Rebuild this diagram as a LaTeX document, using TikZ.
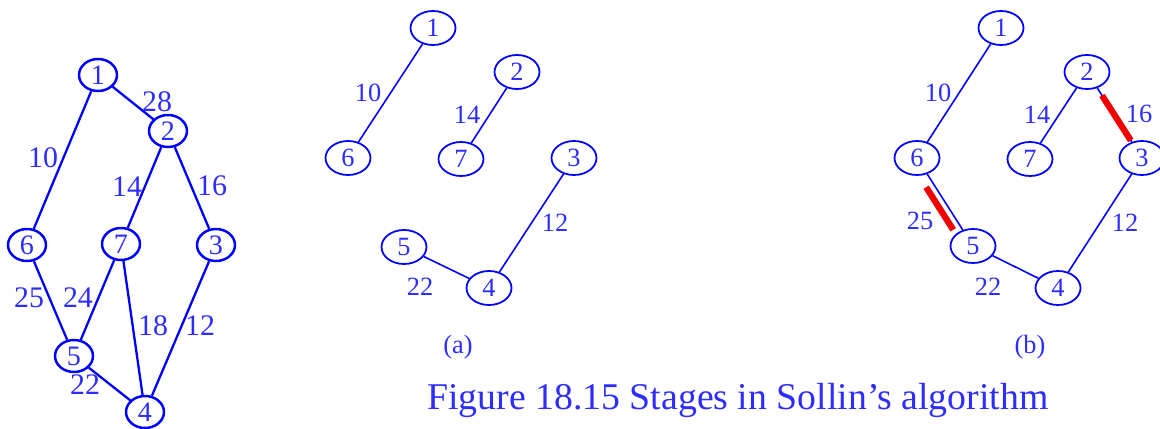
\documentclass[tikz,border=0pt]{standalone}
\usepackage{fontspec}
\setmainfont{Liberation Serif}
\usetikzlibrary{shapes.geometric}

\definecolor{txtblue}{RGB}{45,45,255}
\definecolor{mark}{RGB}{240,0,0}

\tikzset{
  vtx/.style={ellipse, draw=blue, line width=1pt, text=txtblue, inner sep=0pt,
    minimum width=0.9cm, minimum height=0.68cm, font=\fontsize{15}{15}\selectfont},
  bigvtx/.style={vtx, minimum width=0.76cm, minimum height=0.64cm, line width=1.4pt,
    font=\fontsize{16}{16}\selectfont},
  wt/.style={text=txtblue, inner sep=0pt, font=\fontsize{15}{15}\selectfont},
  bigwt/.style={wt, font=\fontsize{17}{17}\selectfont},
  edge/.style={draw=blue, line width=0.9pt},
  bigedge/.style={draw=blue, line width=1.3pt},
  redmark/.style={draw=mark, line width=3.6pt}
}

\begin{document}
\begin{tikzpicture}[x=0.02cm, y=-0.02cm]
\useasboundingbox (0,0) rectangle (1160,429);

% the whole graph
\node[bigvtx] (a1) at (98,75) {1};
\node[bigvtx] (a2) at (168,131) {2};
\node[bigvtx] (a6) at (27,245) {6};
\node[bigvtx] (a7) at (121,244) {7};
\node[bigvtx] (a3) at (216,245) {3};
\node[bigvtx] (a5) at (74,356) {5};
\node[bigvtx] (a4) at (145,412) {4};

\draw[bigedge] (a1) -- (a2);
\draw[bigedge] (a1) -- (a6);
\draw[bigedge] (a2) -- (a7);
\draw[bigedge] (a2) -- (a3);
\draw[bigedge] (a6) -- (a5);
\draw[bigedge] (a7) -- (a5);
\draw[bigedge] (a7) -- (a4);
\draw[bigedge] (a3) -- (a4);
\draw[bigedge] (a5) -- (a4);

\node[bigwt] (a12) at (157,102) {28};
\node[bigwt] (a16) at (43,158) {10};
\node[bigwt] (a27) at (127,187) {14};
\node[bigwt] (a23) at (212,186) {16};
\node[bigwt] (a65) at (29,298) {25};
\node[bigwt] (a75) at (78,298) {24};
\node[bigwt] (a74) at (153,326) {18};
\node[bigwt] (a34) at (200,326) {12};
\node[bigwt] (a54) at (85,385) {22};

% stage (a)
\node[vtx] (b1) at (433,28) {1};
\node[vtx] (b2) at (517,72) {2};
\node[vtx] (b6) at (348,158) {6};
\node[vtx] (b7) at (461,159) {7};
\node[vtx] (b3) at (574,158) {3};
\node[vtx] (b5) at (404,247) {5};
\node[vtx] (b4) at (489,288) {4};

\draw[edge] (b1) -- (b6);
\draw[edge] (b2) -- (b7);
\draw[edge] (b3) -- (b4);
\draw[edge] (b5) -- (b4);

\node[wt] (b16) at (368,93) {10};
\node[wt] (b27) at (467,115) {14};
\node[wt] (b34) at (555,223) {12};
\node[wt] (b54) at (420,287) {22};

% stage (b)
\node[vtx] (c1) at (1001,28) {1};
\node[vtx] (c2) at (1087,72) {2};
\node[vtx] (c6) at (917,158) {6};
\node[vtx] (c7) at (1030,159) {7};
\node[vtx] (c3) at (1142,158) {3};
\node[vtx] (c5) at (973,246) {5};
\node[vtx] (c4) at (1058,288) {4};

\draw[edge] (c1) -- (c6);
\draw[edge] (c2) -- (c7);
\draw[edge] (c2) -- (c3);
\draw[edge] (c6) -- (c5);
\draw[edge] (c3) -- (c4);
\draw[edge] (c5) -- (c4);

% edges added in this stage
\draw[redmark, shorten <=5pt, shorten >=1pt] (c2) -- (c3);
\draw[redmark, shorten <=6pt, shorten >=3pt, transform canvas={xshift=-0.135cm, yshift=-0.086cm}] (c6) -- (c5);

\node[wt] (c16) at (938,93) {10};
\node[wt] (c27) at (1037,115) {14};
\node[wt] (c23) at (1139,114) {16};
\node[wt] (c65) at (920,221) {25};
\node[wt] (c34) at (1125,223) {12};
\node[wt] (c54) at (988,287) {22};

% captions
\node[wt] (capa) at (458,347) {(a)};
\node[wt] (capb) at (1030,347) {(b)};
\node[wt, font=\fontsize{21.5}{21.5}\selectfont] (title) at (738,400) {Figure 18.15 Stages in Sollin’s algorithm};
\end{tikzpicture}
\end{document}
